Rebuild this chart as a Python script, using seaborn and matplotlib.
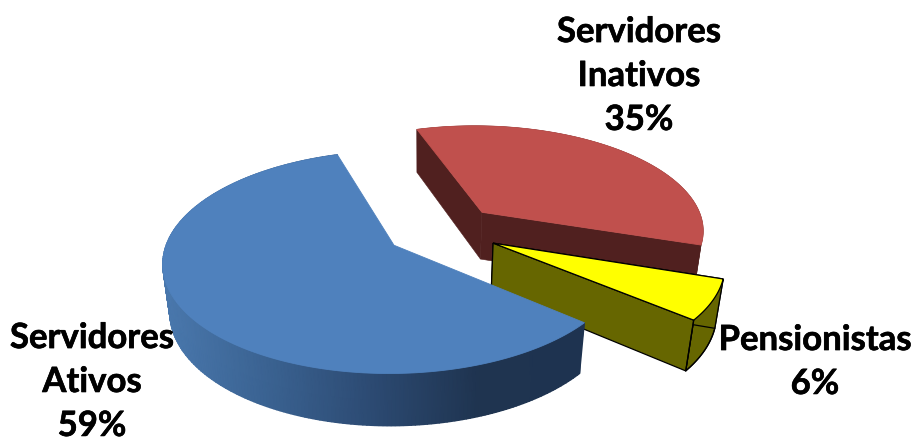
"""Exploded 3D pie of servidores / pensionistas, drawn on a flat pixel axes."""
import numpy as np
import matplotlib
matplotlib.use('Agg')
import matplotlib.pyplot as plt
import matplotlib.patheffects as pe
import seaborn as sns

labels = ['Servidores\nAtivos', 'Servidores\nInativos', 'Pensionistas']
values = [59, 35, 6]
top_colors = ['#4f81bd', '#c0504d', '#ffff00']
side_colors = ['#2f507a', '#50201f', '#666600']
explode = [0.15, 0.36, 0.32]
explode_dir = [235, 50, 102]
label_pos = [(92, 382), (639, 76), (815, 362)]
first_angle = 130.0

# projection of the pie disc to the picture, in pixels
CX, CY = 422, 236
A, B, H = 225, 106, 49
K, M = 0.15, 0.027


def project(x, y, z):
    s = 1 / (1 - K * y + M * z)
    return CX + A * x * s, CY + (B * y + H * z) * s


def wall(p, q):
    x0, y0 = p
    x1, y1 = q
    corners = [project(x0, y0, 0), project(x1, y1, 0), project(x1, y1, 1), project(x0, y0, 1)]
    return np.array(corners)


sns.set_theme(style='white')
plt.rcParams['font.family'] = ['Lato', 'DejaVu Sans']

fig, ax = plt.subplots(figsize=(9.14, 4.42), dpi=100)
fig.subplots_adjust(0, 0, 1, 1)
ax.set_xlim(0, 914)
ax.set_ylim(442, 0)
ax.axis('off')

blue_ramp = sns.blend_palette(['#4a78ad', '#3a6291', '#2c4a72', '#1f3450', '#1e3350'], as_cmap=True)

shares = np.array(values) / sum(values) * 360
starts = first_angle + np.concatenate([[0], np.cumsum(shares)[:-1]])

# far slices first, blue last because it sits in front of the others
for i in [1, 2, 0]:
    start, sweep = starts[i], shares[i]
    mid = np.radians(explode_dir[i])
    ox, oy = explode[i] * np.sin(mid), -explode[i] * np.cos(mid)
    t = np.radians(np.linspace(start, start + sweep, 240))
    rim = np.column_stack([ox + np.sin(t), oy - np.cos(t)])
    apex = (ox, oy)
    top = np.array([project(x, y, 0) for x, y in rim])
    low = np.array([project(x, y, 1) for x, y in rim])

    if i == 0:
        # smooth shading along the curved side, the radial walls are hidden here
        xs = np.vstack([top[:, 0], low[:, 0]])
        ys = np.vstack([top[:, 1], low[:, 1]])
        ax.pcolormesh(xs, ys, np.clip((xs - 165) / (583 - 165), 0, 1), cmap=blue_ramp,
                      vmin=0, vmax=1, shading='gouraud')
    else:
        color = side_colors[i]
        edge = 'black' if i == 2 else color
        lw = 0.9 if i == 2 else 0.4
        side = np.vstack([top, low[::-1]])
        ax.fill(side[:, 0], side[:, 1], facecolor=color, edgecolor=edge, lw=lw)
        walls = [wall(apex, rim[0]), wall(rim[-1], apex)]
        walls.sort(key=lambda f: f[:, 1].mean())
        for f in walls:
            ax.fill(f[:, 0], f[:, 1], facecolor=color, edgecolor=edge, lw=lw)
        if i == 2:
            # walls above covered the corner edges of the curved side
            ax.plot(low[:, 0], low[:, 1], color='black', lw=lw)
            ax.plot([top[-1, 0], low[-1, 0]], [top[-1, 1], low[-1, 1]], color='black', lw=lw)

    outline = np.vstack([project(*apex, 0), top])
    ax.fill(outline[:, 0], outline[:, 1], facecolor=top_colors[i],
            edgecolor='black' if i == 2 else top_colors[i], lw=0.9 if i == 2 else 0.6)

for label, value, (x, y) in zip(labels, values, label_pos):
    ax.text(x, y, f'{label}\n{value}%', ha='center', va='center', fontsize=25,
            fontweight='bold', color='black', linespacing=1.46,
            path_effects=[pe.withStroke(linewidth=0.45, foreground='black')])

fig.savefig('out.png', dpi=100)
